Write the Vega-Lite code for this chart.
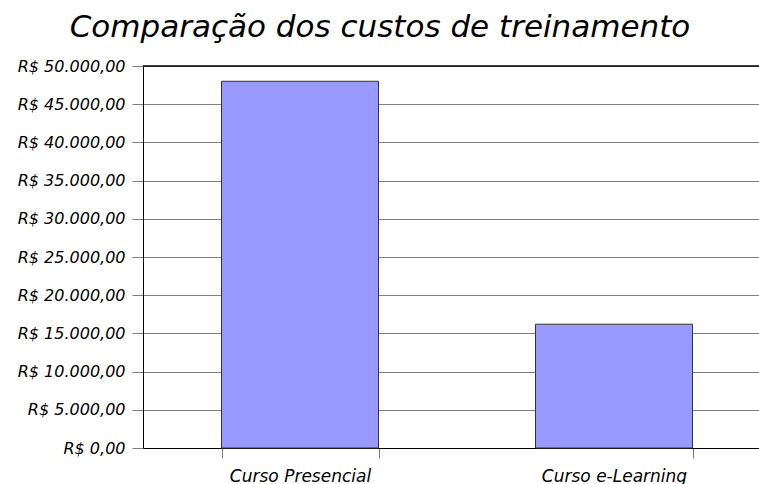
{
  "$schema": "https://vega.github.io/schema/vega-lite/v6.json",
  "width": 616,
  "height": 382,
  "autosize": {"type": "none"},
  "padding": {"left": 143, "top": 66, "right": 0, "bottom": 36},
  "background": "white",
  "config": {
    "view": {"stroke": null},
    "locale": {"number": {"decimal": ",", "thousands": ".", "grouping": [3], "currency": ["R$ ", ""]}}
  },
  "title": {
    "text": "Comparação dos custos de treinamento",
    "font": "DejaVu Sans",
    "fontSize": 31,
    "fontStyle": "italic",
    "fontWeight": "normal",
    "color": "black",
    "anchor": "middle",
    "frame": "group",
    "dx": -71,
    "baseline": "alphabetic",
    "offset": -10
  },
  "data": {
    "values": [
      {"curso": "Curso Presencial", "custo": 48000},
      {"curso": "Curso e-Learning", "custo": 16200}
    ]
  },
  "layer": [
    {
      "mark": {"type": "bar", "color": "#9999FF", "stroke": "#333333", "strokeWidth": 1},
      "encoding": {
        "x": {
          "field": "curso",
          "type": "nominal",
          "sort": null,
          "scale": {"range": [0, 628], "paddingInner": 0.5, "paddingOuter": 0.25},
          "axis": {
            "title": null,
            "labelAngle": 0,
            "labelFont": "DejaVu Sans",
            "labelFontSize": 17,
            "labelFontStyle": "italic",
            "labelColor": "black",
            "tickBand": "extent",
            "tickSize": 10,
            "tickColor": "#808080",
            "domainColor": "black",
            "labelPadding": 10,
            "grid": false
          }
        },
        "y": {
          "field": "custo",
          "type": "quantitative",
          "scale": {"domain": [0, 50000], "nice": false},
          "axis": {
            "title": null,
            "tickCount": 10,
            "format": "$,.2f",
            "labelOverlap": false,
            "labelFont": "DejaVu Sans",
            "labelFontSize": 16,
            "labelFontStyle": "italic",
            "labelColor": "black",
            "tickColor": "#808080",
            "tickSize": 11,
            "labelPadding": 7,
            "domainColor": "black",
            "grid": true,
            "gridColor": "#808080",
            "gridOpacity": 1
          }
        }
      }
    },
    {
      "mark": {"type": "rule", "color": "black", "strokeWidth": 1},
      "encoding": {
        "y": {"datum": 50000, "type": "quantitative"}
      }
    }
  ]
}
